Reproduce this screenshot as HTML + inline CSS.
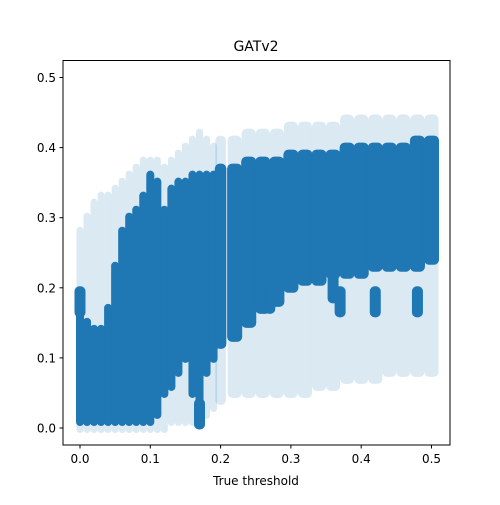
<!DOCTYPE html>
<html><head><meta charset="utf-8"><style>
body{margin:0;background:#fff;width:500px;height:500px;overflow:hidden}
svg{font-family:"DejaVu Sans","Liberation Sans",sans-serif}
</style></head><body>
<svg id="chart" width="500" height="500">
<text x="256" y="51" font-size="14" text-anchor="middle">GATv2</text>
<g id="marks"></g>
<rect x="63" y="60.5" width="387" height="384.5" fill="none" stroke="#000" stroke-width="1"/>
<g id="axes"></g>
<text x="256" y="485" font-size="12" text-anchor="middle">True threshold</text>
</svg>
<script>
const xs = [0.00,0.01,0.02,0.03,0.04,0.05,0.06,0.07,0.08,0.09,0.10,0.11,0.12,0.13,0.14,0.15,0.16,0.17,0.18,0.19,0.20,0.22,0.24,0.26,0.28,0.30,0.32,0.34,0.36,0.38,0.40,0.42,0.44,0.46,0.48,0.50];
const coreLow = [0.01,0.01,0.01,0.01,0.01,0.01,0.01,0.01,0.01,0.01,0.01,0.02,0.05,0.06,0.08,0.10,0.05,0.03,0.08,0.10,0.12,0.13,0.15,0.17,0.18,0.20,0.21,0.21,0.22,0.22,0.22,0.23,0.23,0.23,0.23,0.24];
const coreHigh = [0.17,0.15,0.14,0.14,0.17,0.23,0.28,0.30,0.31,0.33,0.36,0.35,0.31,0.34,0.35,0.35,0.36,0.36,0.36,0.36,0.37,0.37,0.38,0.38,0.38,0.39,0.39,0.39,0.39,0.40,0.40,0.40,0.40,0.40,0.41,0.41];
const haloLow = [0.00,0.00,0.00,0.00,0.00,0.00,0.00,0.00,0.00,0.00,0.00,0.00,0.00,0.01,0.01,0.01,0.01,0.01,0.02,0.03,0.04,0.05,0.05,0.05,0.05,0.05,0.05,0.06,0.06,0.07,0.07,0.07,0.08,0.08,0.08,0.08];
const haloHigh = [0.28,0.30,0.32,0.33,0.33,0.34,0.35,0.36,0.37,0.38,0.38,0.38,0.37,0.38,0.39,0.40,0.41,0.42,0.41,0.40,0.41,0.41,0.42,0.42,0.42,0.43,0.43,0.43,0.43,0.44,0.44,0.44,0.44,0.44,0.44,0.44];
const blobX = [0.00,0.27,0.36,0.37,0.42,0.48,0.17];
const blobY = [0.18,0.185,0.20,0.18,0.18,0.18,0.02];
const xTicks = [0.0,0.1,0.2,0.3,0.4,0.5];
const yTicks = [0.0,0.1,0.2,0.3,0.4,0.5];

const NS="http://www.w3.org/2000/svg";
const sx = v => 80 + v*703;
const sy = v => 428 - v*701;
const marks=document.getElementById('marks');
function band(cx,lo,hi,w,op,name){
  const r=document.createElementNS(NS,'rect');
  const y1=sy(hi)-5, y2=sy(lo)+5;
  r.setAttribute('x',cx-w/2);r.setAttribute('width',w);
  r.setAttribute('y',y1);r.setAttribute('height',y2-y1);
  r.setAttribute('rx',Math.min(5,w/2));
  r.setAttribute('fill','#1f77b4');r.setAttribute('fill-opacity',op);
  
  
  marks.appendChild(r);
}
function colW(i){
  const prev = i>0 ? xs[i]-xs[i-1] : xs[1]-xs[0];
  const next = i<xs.length-1 ? xs[i+1]-xs[i] : prev;
  return (prev+next)/2*703;
}
for(let i=0;i<xs.length;i++){
  band(sx(xs[i]),haloLow[i],haloHigh[i],colW(i),0.16,'scatter-halo');
}
for(let i=0;i<xs.length;i++){
  band(sx(xs[i]),coreLow[i],coreHigh[i],colW(i)+1,1,'scatter-core');
}
for(let i=0;i<blobX.length;i++){
  band(sx(blobX[i]),blobY[i]-0.015,blobY[i]+0.015,11,1,'scatter-cluster');
}
const axes=document.getElementById('axes');
xTicks.forEach(t=>{
  const l=document.createElementNS(NS,'line');
  l.setAttribute('x1',sx(t));l.setAttribute('x2',sx(t));l.setAttribute('y1',445);l.setAttribute('y2',448.5);l.setAttribute('stroke','#000');
  
  
  axes.appendChild(l);
  const tx=document.createElementNS(NS,'text');
  tx.setAttribute('x',sx(t));tx.setAttribute('y',463);tx.setAttribute('font-size','12');tx.setAttribute('text-anchor','middle');
  tx.textContent=t.toFixed(1);
  
  
  axes.appendChild(tx);
});
yTicks.forEach(t=>{
  const l=document.createElementNS(NS,'line');
  l.setAttribute('x1',59.5);l.setAttribute('x2',63);l.setAttribute('y1',sy(t));l.setAttribute('y2',sy(t));l.setAttribute('stroke','#000');
  
  
  axes.appendChild(l);
  const tx=document.createElementNS(NS,'text');
  tx.setAttribute('x',56);tx.setAttribute('y',sy(t)+4.5);tx.setAttribute('font-size','12');tx.setAttribute('text-anchor','end');
  tx.textContent=t.toFixed(1);
  
  
  axes.appendChild(tx);
});
</script>
</body></html>
